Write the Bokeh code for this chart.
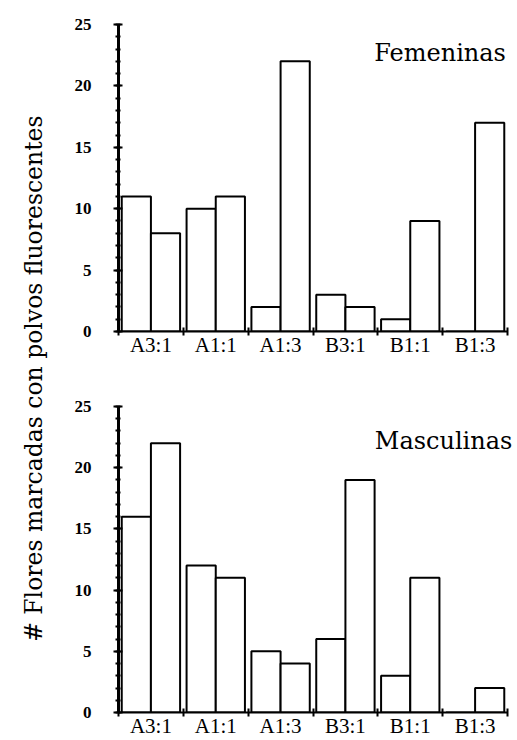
from math import pi
from bokeh.plotting import figure
from bokeh.models import Range1d, FixedTicker, Label, ColumnDataSource
from bokeh.layouts import row, column
from bokeh.embed import file_html
from bokeh.resources import INLINE

# ---- data ----
categories = ["A3:1", "A1:1", "A1:3", "B3:1", "B1:1", "B1:3"]
fem_left = [11, 10, 2, 3, 1, 0]
fem_right = [8, 11, 22, 2, 9, 17]
masc_left = [16, 12, 5, 6, 3, 0]
masc_right = [22, 11, 4, 19, 11, 2]
y_ticks = [0, 5, 10, 15, 20, 25]
y_minor_ticks = [0, 1, 2, 3, 4, 5, 6, 7, 8, 9, 10, 11, 12, 13, 14, 15, 16, 17,
                 18, 19, 20, 21, 22, 23, 24, 25]
y_label = "# Flores marcadas con polvos fluorescentes"

SERIF = "Liberation Serif"
TITLE_FONT = "DejaVu Serif"
LAB_W = 58
FIG_W = 459
TOTAL_H = 740
X_END = 12.308  # frame extends a little past the last group so titles are not clipped


def make_chart(title, left_vals, right_vals, height, b_top, b_bottom, title_y, title_x):
    n = len(categories)
    centers = [2 * i + 1 for i in range(n)]
    bounds = [2 * i for i in range(n + 1)]
    p = figure(width=FIG_W, height=height, x_range=Range1d(0, X_END), y_range=Range1d(0, 25),
               output_backend="svg", toolbar_location=None,
               min_border_left=60, min_border_right=0,
               min_border_top=b_top, min_border_bottom=b_bottom)
    src = ColumnDataSource(dict(
        xl=[c - 0.45 for c in centers], xr=[c + 0.45 for c in centers],
        left=left_vals, right=right_vals))
    p.vbar(x="xl", top="left", bottom=0, width=0.9, source=src,
           fill_color="white", line_color="black", line_width=2)
    p.vbar(x="xr", top="right", bottom=0, width=0.9, source=src,
           fill_color="white", line_color="black", line_width=2)

    p.xgrid.visible = False
    p.ygrid.visible = False
    p.outline_line_color = None
    p.background_fill_color = "white"
    p.border_fill_color = "white"

    xa = p.xaxis[0]
    xa.bounds = (0, 2 * n)
    xa.ticker = FixedTicker(ticks=centers, minor_ticks=bounds)
    xa.major_label_overrides = {c: cat for c, cat in zip(centers, categories)}
    xa.major_tick_in = 0
    xa.major_tick_out = 0
    xa.minor_tick_in = 4
    xa.minor_tick_out = 4
    xa.minor_tick_line_width = 2
    xa.minor_tick_line_color = "black"
    xa.axis_line_width = 2
    xa.axis_line_color = "black"
    xa.major_label_standoff = -3
    xa.major_label_text_font = SERIF
    xa.major_label_text_font_size = "21px"
    xa.major_label_text_color = "black"

    ya = p.yaxis[0]
    ya.ticker = FixedTicker(ticks=y_ticks, minor_ticks=y_minor_ticks)
    ya.major_tick_in = 4
    ya.major_tick_out = 5
    ya.minor_tick_in = 2
    ya.minor_tick_out = 3
    ya.major_tick_line_width = 2
    ya.minor_tick_line_width = 2
    ya.major_tick_line_color = "black"
    ya.minor_tick_line_color = "black"
    ya.axis_line_width = 3
    ya.axis_line_color = "black"
    ya.major_label_standoff = 22
    ya.major_label_text_font = SERIF
    ya.major_label_text_font_style = "bold"
    ya.major_label_text_font_size = "17px"
    ya.major_label_text_color = "black"

    p.add_layout(Label(x=title_x, y=title_y, text=title, text_align="right",
                       text_baseline="alphabetic", text_font=TITLE_FONT,
                       text_font_size="24px", text_color="black"))
    return p


h1 = 376
h2 = TOTAL_H - h1
top = make_chart("Femeninas", fem_left, fem_right, h1, 24, 45, 22.7, 11.95)
bottom = make_chart("Masculinas", masc_left, masc_right, h2, 30, 27, 22.2, 12.15)

lab = figure(width=LAB_W, height=TOTAL_H, x_range=Range1d(0, 1), y_range=Range1d(0, 1),
             output_backend="svg", toolbar_location=None,
             min_border_left=0, min_border_right=0, min_border_top=0, min_border_bottom=0)
lab.axis.visible = False
lab.xgrid.visible = False
lab.ygrid.visible = False
lab.outline_line_color = None
lab.add_layout(Label(x=0.57, y=0.489, text=y_label, angle=pi / 2, text_align="center",
                     text_baseline="middle", text_font=TITLE_FONT,
                     text_font_size="23.5px", text_color="black"))

layout = row(lab, column(top, bottom))
open("out.html", "w").write(file_html(layout, INLINE))
